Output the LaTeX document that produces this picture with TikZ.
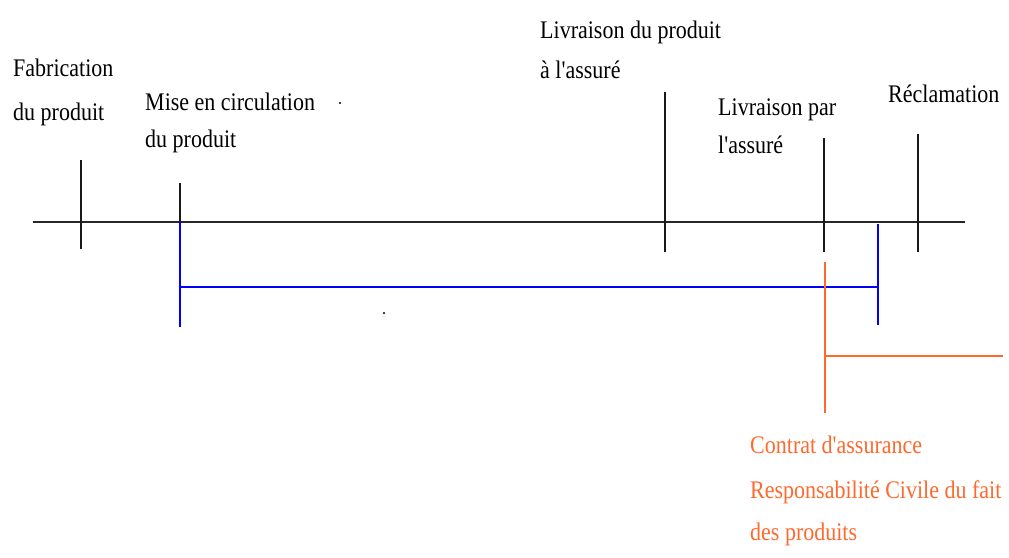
\documentclass[tikz,border=0pt]{standalone}
\usepackage{fontspec}
\setmainfont{Liberation Serif}[Ligatures=TeXOff]
\definecolor{rcorange}{RGB}{255,105,45}
\definecolor{rcblue}{RGB}{0,0,255}
\newcommand{\tall}[1]{\scalebox{1}[1.15]{#1}}
\begin{document}
\begin{tikzpicture}[x=1pt,y=-1pt,
  axis/.style={line width=2.4pt,black!85},
  tick/.style={line width=1.8pt,black!90},
  bluebar/.style={line width=2pt,rcblue},
  orangebar/.style={line width=1.6pt,rcorange},
  lbl/.style={anchor=base west,inner sep=0pt,font=\fontsize{22}{22}\selectfont},
  olbl/.style={lbl,text=rcorange},
  stray/.style={fill=black,draw=none}]
\useasboundingbox[fill=white] (0,0) rectangle (1009,557);
% main time axis
\coordinate (axL) at (33,222);
\coordinate (axR) at (965,222);
\draw[axis] (axL) -- (axR);
% ticks
\coordinate (fT) at (81,160);   \coordinate (fB) at (81,249);
\coordinate (mT) at (180,183);  \coordinate (mB) at (180,222);
\coordinate (lT) at (665,92);   \coordinate (lB) at (665,252);
\coordinate (pT) at (824,138);  \coordinate (pB) at (824,252);
\coordinate (rT) at (918,134);  \coordinate (rB) at (918,252);
\draw[tick] (fT) -- (fB);
\draw[tick] (mT) -- (mB);
\draw[tick] (lT) -- (lB);
\draw[tick] (pT) -- (pB);
\draw[tick] (rT) -- (rB);
% blue period
\coordinate (bTL) at (180,222); \coordinate (bBL) at (180,327);
\coordinate (bML) at (180,287); \coordinate (bMR) at (878,287);
\coordinate (bTR) at (878,224); \coordinate (bBR) at (878,325);
\draw[bluebar] (bTL) -- (bBL);
\draw[bluebar] (bML) -- (bMR);
\draw[bluebar] (bTR) -- (bBR);
% orange contract
\coordinate (oT) at (825,262); \coordinate (oB) at (825,413);
\coordinate (oM) at (825,356); \coordinate (oR) at (1003,356);
\draw[orangebar] (oT) -- (oB);
\draw[orangebar] (oM) -- (oR);
% labels
\node[lbl] (fab1) at (13,76) {\tall{Fabrication}};
\node[lbl] (fab2) at (13,120) {\tall{du produit}};
\node[lbl] (mise1) at (145,110) {\tall{Mise en circulation}};
\node[lbl] (mise2) at (145,147) {\tall{du produit}};
\node[lbl] (liv1) at (540,38) {\tall{Livraison du produit}};
\node[lbl] (liv2) at (540,78) {\tall{à l'assuré}};
\node[lbl] (par1) at (718,115) {\tall{Livraison par}};
\node[lbl] (par2) at (718,153) {\tall{l'assuré}};
\node[lbl] (recl) at (888,102) {\tall{Réclamation}};
\node[olbl] (c1) at (750,453) {\tall{Contrat d'assurance}};
\node[olbl] (c2) at (750,498) {\tall{Responsabilité Civile du fait}};
\node[olbl] (c3) at (750,540) {\tall{des produits}};
% stray dots
\fill[stray] (340,103) circle (1.2);
\fill[stray] (384,313) circle (1.2);
\end{tikzpicture}
\end{document}
